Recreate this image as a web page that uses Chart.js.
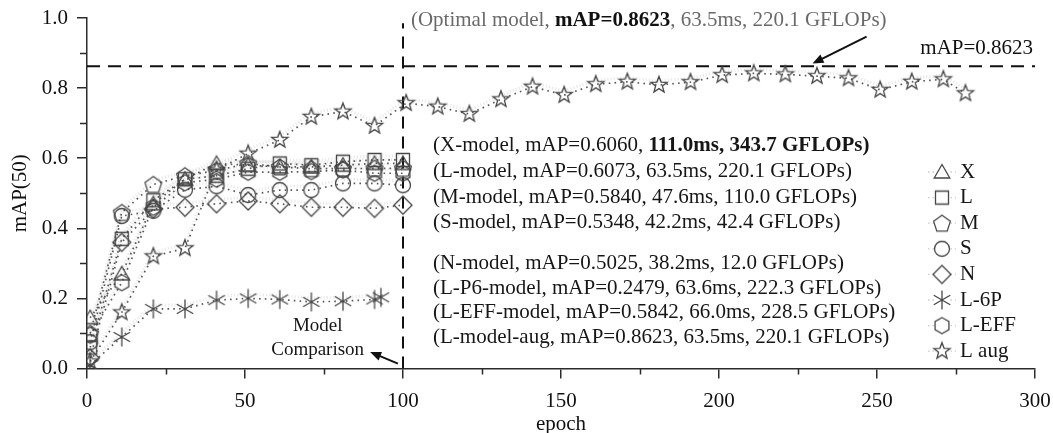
<!DOCTYPE html>
<html>
<head>
<meta charset="utf-8">
<script src="https://cdn.jsdelivr.net/npm/chart.js@4.4.1/dist/chart.umd.min.js"></script>
<style>
  html, body { margin: 0; padding: 0; background: #fff; }
  #wrap { width: 1053px; height: 433px; }
</style>
</head>
<body>
<div id="wrap"><canvas id="map-chart" width="1053" height="433"></canvas></div>
<script>
// ── Data ─────────────────────────────────────────────────────
// epochs at which a marker is plotted
const EPOCHS     = [1, 11, 21, 31, 41, 51, 61, 71, 81, 91, 100];
const EPOCHS_6P  = [1, 11, 21, 31, 41, 51, 61, 71, 81, 91, 93];
const EPOCHS_AUG = [1, 11, 21, 31, 41, 51, 61, 71, 81, 91,
                    101, 111, 121, 131, 141, 151, 161, 171, 181, 191,
                    201, 211, 221, 231, 241, 251, 261, 271, 278];

const MAP_X   = [0.145, 0.27, 0.47, 0.54, 0.585, 0.58, 0.575, 0.575, 0.58, 0.585, 0.585];
const MAP_L   = [0.06, 0.37, 0.48, 0.54, 0.55, 0.57, 0.585, 0.58, 0.59, 0.595, 0.595];
const MAP_M   = [0.10, 0.445, 0.525, 0.55, 0.565, 0.585, 0.575, 0.57, 0.57, 0.571, 0.571];
const MAP_S   = [0.075, 0.435, 0.45, 0.51, 0.52, 0.495, 0.509, 0.509, 0.528, 0.528, 0.523];
const MAP_N   = [0.03, 0.36, 0.455, 0.46, 0.47, 0.478, 0.47, 0.46, 0.46, 0.457, 0.466];
const MAP_6P  = [0.01, 0.09, 0.17, 0.17, 0.195, 0.2, 0.197, 0.19, 0.192, 0.197, 0.203];
const MAP_EFF = [0.095, 0.245, 0.46, 0.53, 0.54, 0.56, 0.56, 0.562, 0.566, 0.557, 0.557];
const MAP_AUG = [0.02, 0.16, 0.32, 0.343, 0.567, 0.613, 0.652, 0.718, 0.733, 0.692,
                 0.757, 0.747, 0.726, 0.768, 0.804, 0.780, 0.811, 0.818, 0.809, 0.817,
                 0.837, 0.842, 0.839, 0.834, 0.828, 0.795, 0.818, 0.825, 0.785];

const SERIES_LABELS = ['X', 'L', 'M', 'S', 'N', 'L-6P', 'L-EFF', 'L aug'];
const MODEL_NOTES = [
  [{ t: '(X-model, mAP=0.6060, ' }, { t: '111.0ms, 343.7 GFLOPs)', bold: true }],
  [{ t: '(L-model, mAP=0.6073, 63.5ms, 220.1 GFLOPs)' }],
  [{ t: '(M-model, mAP=0.5840, 47.6ms, 110.0 GFLOPs)' }],
  [{ t: '(S-model, mAP=0.5348, 42.2ms, 42.4 GFLOPs)' }],
  [{ t: '(N-model, mAP=0.5025, 38.2ms, 12.0 GFLOPs)' }],
  [{ t: '(L-P6-model, mAP=0.2479, 63.6ms, 222.3 GFLOPs)' }],
  [{ t: '(L-EFF-model, mAP=0.5842, 66.0ms, 228.5 GFLOPs)' }],
  [{ t: '(L-model-aug, mAP=0.8623, 63.5ms, 220.1 GFLOPs)' }],
];

const OPT_MAP = 0.8623;
const COMPARE_EPOCH = 100;
const X_MIN = 0, X_MAX = 300, X_STEP = 50, X_MINOR = 25;
const Y_MIN = 0, Y_MAX = 1, Y_STEP = 0.2, Y_MINOR = 0.1;

// ── Style ────────────────────────────────────────────────────
const FONT = "'Liberation Serif', 'Times New Roman', serif";
const AXIS = '#2b2b2b';
const MARK = '#474747';
const DOTS = 'rgba(60,60,60,0.85)';

// Build hollow marker glyphs on small canvases (Chart.js draws them as point images)
function poly(g, n, r, startDeg) {
  for (let i = 0; i < n; i++) {
    const a = (startDeg + i * 360 / n) * Math.PI / 180;
    const px = r * Math.cos(a), py = r * Math.sin(a);
    i ? g.lineTo(px, py) : g.moveTo(px, py);
  }
  g.closePath();
}

function makeMarker(shape) {
  const s = 24;
  const c = document.createElement('canvas');
  c.width = s; c.height = s;
  const g = c.getContext('2d');
  g.strokeStyle = MARK;
  g.lineWidth = 1.3;
  g.translate(s / 2, s / 2);
  g.beginPath();
  switch (shape) {
    case 'triangle': g.translate(0, 1.5); poly(g, 3, 9, -90); break;
    case 'square':   g.rect(-6.5, -6.5, 13, 13); break;
    case 'pentagon': g.translate(0, 0.8); poly(g, 5, 8.8, -90); break;
    case 'circle':   g.arc(0, 0, 7.5, 0, Math.PI * 2); break;
    case 'diamond':  poly(g, 4, 9, -90); break;
    case 'hexagon':  poly(g, 6, 8, -90); break;
    case 'star':
      for (let i = 0; i < 10; i++) {
        const r = i % 2 ? 3.6 : 8.6;
        const a = (-90 + i * 36) * Math.PI / 180;
        i ? g.lineTo(r * Math.cos(a), r * Math.sin(a)) : g.moveTo(r * Math.cos(a), r * Math.sin(a));
      }
      g.closePath();
      break;
    case 'asterisk':
      [90, 30, 150].forEach(d => {
        const a = d * Math.PI / 180;
        g.moveTo(-9.5 * Math.cos(a), -9.5 * Math.sin(a));
        g.lineTo(9.5 * Math.cos(a), 9.5 * Math.sin(a));
      });
      break;
  }
  g.stroke();
  return c;
}

const SHAPES = ['triangle', 'square', 'pentagon', 'circle', 'diamond', 'asterisk', 'hexagon', 'star'];
const MARKERS = SHAPES.map(makeMarker);

const pts = (xs, ys) => xs.map((x, i) => ({ x, y: ys[i] }));

function series(i, xs, ys) {
  return {
    label: SERIES_LABELS[i],
    data: pts(xs, ys),
    borderColor: DOTS,
    borderWidth: 1.7,
    borderDash: [1.6, 4.2],
    pointStyle: MARKERS[i],
    pointRadius: 8,
    tension: 0,
    isSeries: true,
  };
}

const datasets = [
  series(0, EPOCHS, MAP_X),
  series(1, EPOCHS, MAP_L),
  series(2, EPOCHS, MAP_M),
  series(3, EPOCHS, MAP_S),
  series(4, EPOCHS, MAP_N),
  series(5, EPOCHS_6P, MAP_6P),
  series(6, EPOCHS, MAP_EFF),
  series(7, EPOCHS_AUG, MAP_AUG),
  {
    label: 'optimal',
    data: [{ x: X_MIN, y: OPT_MAP }, { x: X_MAX, y: OPT_MAP }],
    borderColor: '#111', borderWidth: 2, borderDash: [13, 8], pointRadius: 0,
  },
  {
    label: 'compare',
    data: [{ x: COMPARE_EPOCH, y: Y_MIN }, { x: COMPARE_EPOCH, y: 0.985 }],
    borderColor: '#111', borderWidth: 2, borderDash: [12, 8], pointRadius: 0,
  },
];

// ── Overlay: minor ticks, annotations, arrows, legend ────────
function drawRuns(ctx, x, y, runs, size, color) {
  ctx.textBaseline = 'middle';
  ctx.textAlign = 'left';
  runs.forEach(r => {
    ctx.font = `${r.bold ? 'bold ' : ''}${size}px ${FONT}`;
    ctx.fillStyle = r.color || color;
    ctx.fillText(r.t, x, y);
    x += ctx.measureText(r.t).width;
  });
}

function arrow(ctx, x0, y0, x1, y1) {
  const a = Math.atan2(y1 - y0, x1 - x0);
  const hl = 11, hw = 4.5;
  ctx.save();
  ctx.strokeStyle = '#111';
  ctx.fillStyle = '#111';
  ctx.lineWidth = 2;
  ctx.beginPath();
  ctx.moveTo(x0, y0);
  ctx.lineTo(x1 - hl * 0.8 * Math.cos(a), y1 - hl * 0.8 * Math.sin(a));
  ctx.stroke();
  ctx.beginPath();
  ctx.moveTo(x1, y1);
  ctx.lineTo(x1 - hl * Math.cos(a) + hw * Math.sin(a), y1 - hl * Math.sin(a) - hw * Math.cos(a));
  ctx.lineTo(x1 - hl * Math.cos(a) - hw * Math.sin(a), y1 - hl * Math.sin(a) + hw * Math.cos(a));
  ctx.closePath();
  ctx.fill();
  ctx.restore();
}

const overlay = {
  id: 'overlay',
  // faint light-grey band under each series, like the raw per-epoch trace
  beforeDatasetsDraw(chart) {
    const { ctx } = chart;
    ctx.save();
    ctx.strokeStyle = 'rgba(200,200,200,0.4)';
    ctx.lineWidth = 3;
    ctx.setLineDash([1.2, 2]);
    chart.data.datasets.forEach((d, i) => {
      if (!d.isSeries) return;
      const meta = chart.getDatasetMeta(i);
      ctx.beginPath();
      meta.data.forEach((p, j) => (j ? ctx.lineTo(p.x, p.y - 4) : ctx.moveTo(p.x, p.y - 4)));
      ctx.stroke();
    });
    ctx.restore();
  },
  afterDraw(chart) {
    const { ctx, chartArea: area, scales: { x, y } } = chart;
    ctx.save();

    // minor ticks
    ctx.strokeStyle = AXIS;
    ctx.lineWidth = 1.5;
    ctx.beginPath();
    for (let v = Y_MINOR; v < Y_MAX; v += Y_STEP) {
      const py = Math.round(y.getPixelForValue(v)) + 0.5;
      ctx.moveTo(area.left - 7, py);
      ctx.lineTo(area.left, py);
    }
    for (let v = X_MINOR; v < X_MAX; v += X_STEP) {
      const px = Math.round(x.getPixelForValue(v)) + 0.5;
      ctx.moveTo(px, area.bottom);
      ctx.lineTo(px, area.bottom + 6);
    }
    ctx.stroke();

    // top annotation
    drawRuns(ctx, x.getPixelForValue(102.5), y.getPixelForValue(0.994), [
      { t: '(Optimal model, ' },
      { t: 'mAP=0.8623', bold: true, color: '#111' },
      { t: ', 63.5ms, 220.1 GFLOPs)' },
    ], 21, '#6a6a6a');

    ctx.font = `21px ${FONT}`;
    ctx.fillStyle = '#111';
    ctx.textAlign = 'right';
    ctx.fillText(`mAP=${OPT_MAP}`, x.getPixelForValue(299.4), y.getPixelForValue(0.914));

    // model list
    const NOTE_Y = [0.635, 0.563, 0.489, 0.416, 0.30, 0.228, 0.16, 0.088];
    MODEL_NOTES.forEach((runs, i) => {
      drawRuns(ctx, x.getPixelForValue(109.5), y.getPixelForValue(NOTE_Y[i]), runs, 21, '#161616');
    });

    // "Model Comparison"
    ctx.font = `19px ${FONT}`;
    ctx.fillStyle = '#161616';
    ctx.textAlign = 'center';
    ctx.fillText('Model', x.getPixelForValue(73), y.getPixelForValue(0.121));
    ctx.fillText('Comparison', x.getPixelForValue(73), y.getPixelForValue(0.053));

    arrow(ctx, x.getPixelForValue(98.4), y.getPixelForValue(0.014),
               x.getPixelForValue(89.6), y.getPixelForValue(0.047));
    arrow(ctx, x.getPixelForValue(246.7), y.getPixelForValue(0.947),
               x.getPixelForValue(229.6), y.getPixelForValue(0.870));

    // legend
    const lx = area.right - 93;
    chart.data.datasets.filter(d => d.isSeries).forEach((d, i) => {
      const ly = area.top + 154 + i * 25.6;
      ctx.strokeStyle = 'rgba(150,150,150,0.5)';
      ctx.lineWidth = 1.3;
      ctx.setLineDash([1.5, 3]);
      ctx.beginPath();
      ctx.moveTo(lx - 14, ly);
      ctx.lineTo(lx + 14, ly);
      ctx.stroke();
      ctx.setLineDash([]);
      ctx.fillStyle = '#fff';
      ctx.fillRect(lx - 8, ly - 8, 16, 16);
      const m = d.pointStyle;
      ctx.drawImage(m, lx - m.width / 2, ly - m.height / 2);
      ctx.font = `21px ${FONT}`;
      ctx.fillStyle = '#161616';
      ctx.textAlign = 'left';
      ctx.textBaseline = 'middle';
      ctx.fillText(d.label, lx + 18, ly);
    });

    ctx.restore();
  },
};

// ── Chart ────────────────────────────────────────────────────
const ctx = document.getElementById('map-chart').getContext('2d');
new Chart(ctx, {
  type: 'line',
  data: { datasets },
  options: {
    responsive: false,
    animation: false,
    layout: { padding: { top: 18, right: 18, left: 0, bottom: 0 } },
    plugins: { legend: { display: false }, tooltip: { enabled: false } },
    scales: {
      x: {
        type: 'linear',
        min: X_MIN, max: X_MAX,
        ticks: { stepSize: X_STEP, color: '#111', padding: 10, maxRotation: 0,
                 font: { family: FONT, size: 21 } },
        grid: { drawOnChartArea: false, tickLength: 10, color: AXIS, lineWidth: 1.5 },
        border: { color: AXIS, width: 1.5 },
        title: { display: true, text: 'epoch', color: '#111', padding: { top: 0, bottom: -2 },
                 font: { family: FONT, size: 21, lineHeight: 1 } },
        afterFit: s => { s.height = 64.5; s.paddingLeft = 0; s.paddingRight = 0; },
      },
      y: {
        min: Y_MIN, max: Y_MAX,
        ticks: { stepSize: Y_STEP, color: '#111', padding: 9, font: { family: FONT, size: 21 },
                 callback: v => v.toFixed(1) },
        grid: { drawOnChartArea: false, tickLength: 10, color: AXIS, lineWidth: 1.5 },
        border: { color: AXIS, width: 1.5 },
        title: { display: true, text: 'mAP(50)', color: '#111', padding: { top: 10, bottom: 0 },
                 font: { family: FONT, size: 21, lineHeight: 1 } },
        afterFit: s => { s.width = 87; s.paddingTop = 0; s.paddingBottom = 0; },
      },
    },
  },
  plugins: [overlay],
});
</script>
</body>
</html>
